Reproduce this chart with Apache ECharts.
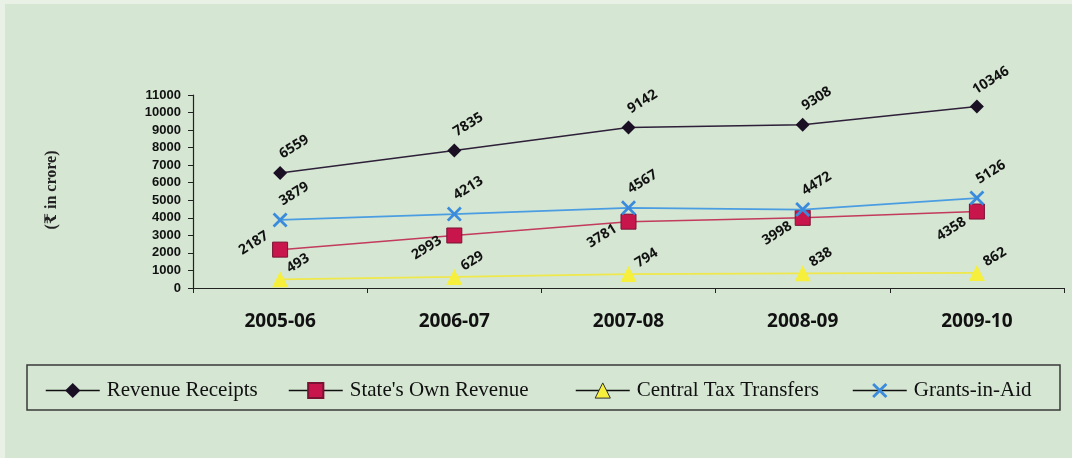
<!DOCTYPE html>
<html>
<head>
<meta charset="utf-8">
<style>
  html, body { margin: 0; padding: 0; background: #eef2ea; }
  #chart { width: 1072px; height: 458px; }
</style>
<script src="https://cdn.jsdelivr.net/npm/echarts@6/dist/echarts.min.js"></script>
</head>
<body>
<div id="chart"></div>
<script>
// Fiscal years on the x axis
const years = ['2005-06', '2006-07', '2007-08', '2008-09', '2009-10'];

// Receipts of the state, rupees in crore
const revenueReceipts = [6559, 7835, 9142, 9308, 10346];
const ownRevenue = [2187, 2993, 3781, 3998, 4358];
const centralTaxTransfers = [493, 629, 794, 838, 862];
const grantsInAid = [3879, 4213, 4567, 4472, 5126];

// Value axis range
const yMin = 0, yMax = 11000, yStep = 1000;

// Own-revenue labels sit left of the marker; the first one is lifted clear of the line
const ownRevenueLabelShift = [[-26, -6], [-27, 13], [-26, 15], [-25, 16], [-25, 18]];

const numFont = '"Open Sans", "Liberation Sans", sans-serif';
const serifFont = '"Liberation Serif", "DejaVu Serif", serif';

// Cross-shaped marker drawn as a filled outline
const crossPath = 'path://M1.3,0 L5,3.7 L8.7,0 L10,1.3 L6.3,5 L10,8.7 L8.7,10 L5,6.3 L1.3,10 L0,8.7 L3.7,5 L0,1.3 Z';

// Value label centred at (dx, dy) from the marker centre, tilted upward
function tiltedLabel(size, dx, dy) {
  return {
    show: true,
    position: [size / 2 + dx, size / 2 + dy],
    align: 'center',
    verticalAlign: 'middle',
    rotate: 32,
    color: '#111',
    fontFamily: numFont,
    fontWeight: 'bold',
    fontSize: 14
  };
}

// One legend entry per slot of the framed key
function legendEntry(entry, left) {
  return {
    left: left,
    top: 380,
    itemWidth: 54,
    itemHeight: 19,
    padding: 0,
    lineStyle: { color: '#111', width: 1.5 },
    textStyle: { fontFamily: serifFont, fontSize: 21, color: '#111', padding: [0, 0, 0, 2] },
    data: [entry]
  };
}

const chart = echarts.init(document.getElementById('chart'));

chart.setOption({
  backgroundColor: '#d5e6d3',
  animation: false,
  grid: { left: 193, right: 8, top: 95, bottom: 170 },
  graphic: [
    // pale page margin along the top and left edges
    { type: 'rect', shape: { x: 0, y: 0, width: 1072, height: 4 }, style: { fill: '#e9f1e6' }, silent: true },
    { type: 'rect', shape: { x: 0, y: 0, width: 5, height: 458 }, style: { fill: '#e9f1e6' }, silent: true },
    {
      type: 'rect',
      shape: { x: 27, y: 365, width: 1033, height: 45 },
      style: { fill: 'none', stroke: '#3a3a3a', lineWidth: 1.5 },
      z: 0
    },
    {
      type: 'text',
      x: 52, y: 190,
      rotation: Math.PI / 2,
      style: {
        text: '(₹ in crore)',
        fill: '#222',
        font: 'bold 16px ' + serifFont,
        align: 'center',
        verticalAlign: 'middle'
      }
    }
  ],
  legend: [
    legendEntry('Revenue Receipts', 45),
    legendEntry("State's Own Revenue", 288),
    legendEntry({ name: 'Central Tax Transfers', itemStyle: { borderColor: '#333', borderWidth: 1 } }, 575),
    legendEntry('Grants-in-Aid', 852)
  ],
  xAxis: {
    type: 'category',
    data: years,
    boundaryGap: true,
    axisLine: { lineStyle: { color: '#222', width: 1.2 } },
    axisTick: { show: true, interval: 0, length: 5, lineStyle: { color: '#222' } },
    axisLabel: {
      margin: 24,
      color: '#111',
      fontFamily: numFont,
      fontWeight: 'bold',
      fontSize: 19
    }
  },
  yAxis: {
    type: 'value',
    min: yMin,
    max: yMax,
    interval: yStep,
    splitLine: { show: false },
    axisLine: { show: true, lineStyle: { color: '#222', width: 1.2 } },
    axisTick: { show: true, length: 5, lineStyle: { color: '#222' } },
    axisLabel: {
      margin: 12,
      color: '#111',
      formatter: (v) => String(v),
      fontFamily: '"Liberation Sans", Arial, sans-serif',
      fontWeight: 'bold',
      fontSize: 13
    }
  },
  series: [
    {
      name: 'Revenue Receipts',
      type: 'line',
      data: revenueReceipts,
      symbol: 'diamond',
      symbolSize: 14,
      lineStyle: { color: '#2d2038', width: 1.5 },
      itemStyle: { color: '#1b0f24' },
      label: tiltedLabel(14, 14, -26),
      z: 4
    },
    {
      name: "State's Own Revenue",
      type: 'line',
      data: ownRevenue.map((v, i) => ({
        value: v,
        label: tiltedLabel(15, ownRevenueLabelShift[i][0], ownRevenueLabelShift[i][1])
      })),
      symbol: 'rect',
      symbolSize: 15,
      lineStyle: { color: '#c23a5c', width: 1.5 },
      itemStyle: { color: '#c8164c', borderColor: '#7a1234', borderWidth: 1 },
      label: tiltedLabel(15, -26, 14),
      z: 3
    },
    {
      name: 'Central Tax Transfers',
      type: 'line',
      data: centralTaxTransfers,
      symbol: 'triangle',
      symbolSize: 16,
      lineStyle: { color: '#efe84a', width: 1.8 },
      itemStyle: { color: '#f6ef3c' },
      label: tiltedLabel(16, 18, -16),
      z: 2
    },
    {
      name: 'Grants-in-Aid',
      type: 'line',
      data: grantsInAid,
      symbol: crossPath,
      symbolSize: 15,
      lineStyle: { color: '#4b9de2', width: 1.8 },
      itemStyle: { color: '#3a8bdc' },
      label: tiltedLabel(15, 14, -26),
      z: 5
    }
  ]
});
</script>
</body>
</html>
